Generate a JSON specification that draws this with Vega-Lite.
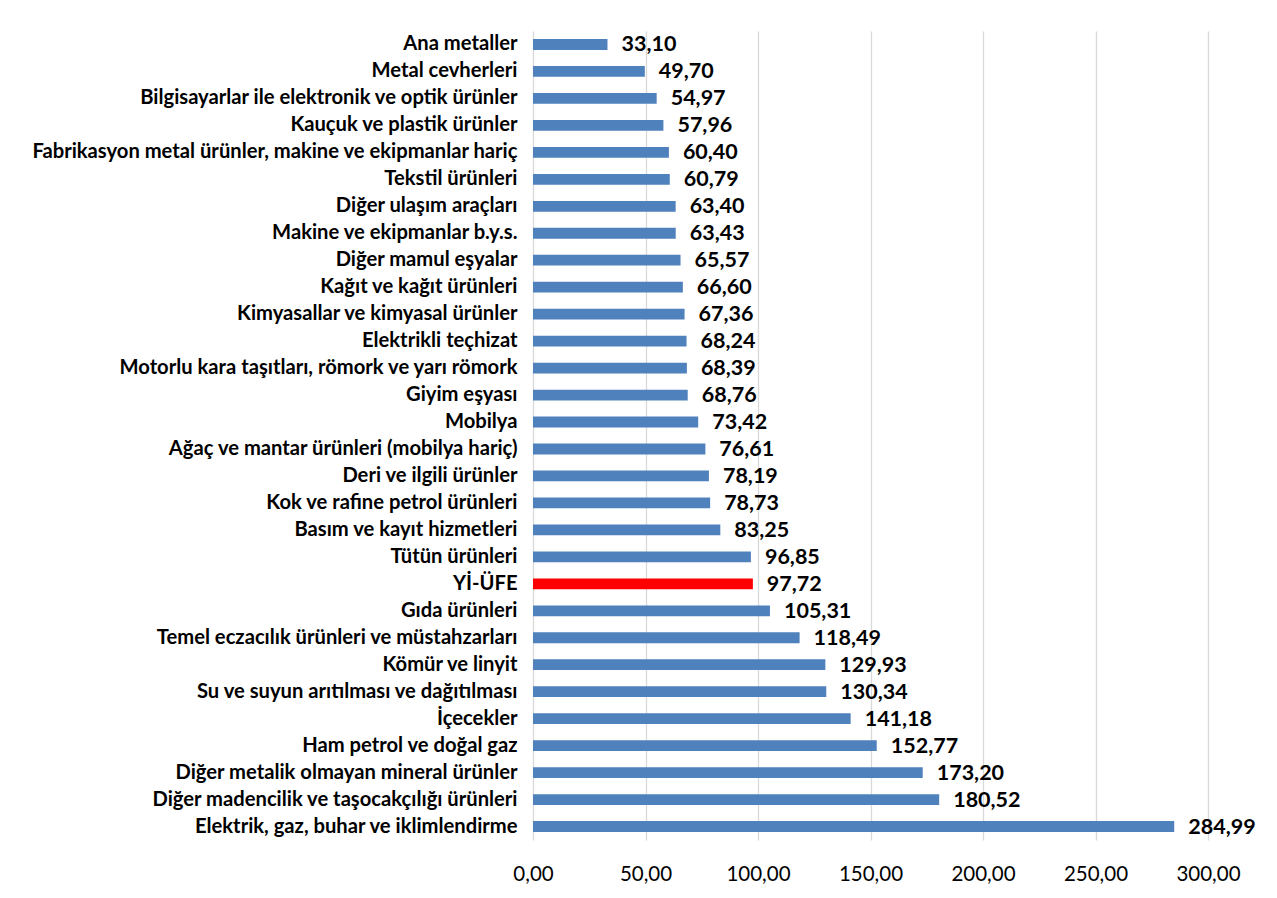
{
  "$schema": "https://vega.github.io/schema/vega-lite/v6.json",
  "autosize": {"type": "none"},
  "padding": {"left": 533, "top": 31, "right": 69, "bottom": 58},
  "width": 675,
  "height": 809,
  "background": "white",
  "config": {
    "view": {"stroke": null},
    "font": "Lato",
    "locale": {"number": {"decimal": ",", "thousands": ".", "grouping": [3], "currency": ["", ""]}}
  },
  "data": {"values": [
    {"k": "Ana metaller", "v": 33.10, "h": "n"},
    {"k": "Metal cevherleri", "v": 49.70, "h": "n"},
    {"k": "Bilgisayarlar ile elektronik ve optik ürünler", "v": 54.97, "h": "n"},
    {"k": "Kauçuk ve plastik ürünler", "v": 57.96, "h": "n"},
    {"k": "Fabrikasyon metal ürünler, makine ve ekipmanlar hariç", "v": 60.40, "h": "n"},
    {"k": "Tekstil ürünleri", "v": 60.79, "h": "n"},
    {"k": "Diğer ulaşım araçları", "v": 63.40, "h": "n"},
    {"k": "Makine ve ekipmanlar b.y.s.", "v": 63.43, "h": "n"},
    {"k": "Diğer mamul eşyalar", "v": 65.57, "h": "n"},
    {"k": "Kağıt ve kağıt ürünleri", "v": 66.60, "h": "n"},
    {"k": "Kimyasallar ve kimyasal ürünler", "v": 67.36, "h": "n"},
    {"k": "Elektrikli teçhizat", "v": 68.24, "h": "n"},
    {"k": "Motorlu kara taşıtları, römork ve yarı römork", "v": 68.39, "h": "n"},
    {"k": "Giyim eşyası", "v": 68.76, "h": "n"},
    {"k": "Mobilya", "v": 73.42, "h": "n"},
    {"k": "Ağaç ve mantar ürünleri (mobilya hariç)", "v": 76.61, "h": "n"},
    {"k": "Deri ve ilgili ürünler", "v": 78.19, "h": "n"},
    {"k": "Kok ve rafine petrol ürünleri", "v": 78.73, "h": "n"},
    {"k": "Basım ve kayıt hizmetleri", "v": 83.25, "h": "n"},
    {"k": "Tütün ürünleri", "v": 96.85, "h": "n"},
    {"k": "Yİ-ÜFE", "v": 97.72, "h": "y"},
    {"k": "Gıda ürünleri", "v": 105.31, "h": "n"},
    {"k": "Temel eczacılık ürünleri ve müstahzarları", "v": 118.49, "h": "n"},
    {"k": "Kömür ve linyit", "v": 129.93, "h": "n"},
    {"k": "Su ve suyun arıtılması ve dağıtılması", "v": 130.34, "h": "n"},
    {"k": "İçecekler", "v": 141.18, "h": "n"},
    {"k": "Ham petrol ve doğal gaz", "v": 152.77, "h": "n"},
    {"k": "Diğer metalik olmayan mineral ürünler", "v": 173.20, "h": "n"},
    {"k": "Diğer madencilik ve taşocakçılığı ürünleri", "v": 180.52, "h": "n"},
    {"k": "Elektrik, gaz, buhar ve iklimlendirme", "v": 284.99, "h": "n"}
  ]},
  "encoding": {
    "y": {"field": "k", "type": "nominal", "sort": null, "title": null,
      "scale": {"paddingInner": 0.6, "paddingOuter": 0.3},
      "axis": {"domain": false, "ticks": false, "labelPadding": 16, "labelFont": "Lato", "labelFontSize": 20.2, "labelFontWeight": "bold", "labelColor": "#000000", "labelLimit": 600}},
    "x": {"field": "v", "type": "quantitative", "title": null,
      "scale": {"domain": [0, 300], "nice": false},
      "axis": {"values": [0, 50, 100, 150, 200, 250, 300], "format": ".2f", "labelFlush": false, "domain": false, "ticks": false, "grid": true, "gridColor": "#D9D9D9", "gridWidth": 1.3, "labelPadding": 24, "labelFont": "Lato", "labelFontSize": 20.5, "labelColor": "#000000"}}
  },
  "layer": [
    {"mark": {"type": "bar"},
      "encoding": {"color": {"field": "h", "type": "nominal", "legend": null, "scale": {"domain": ["n", "y"], "range": ["#4F81BD", "#FF0000"]}}}},
    {"mark": {"type": "text", "align": "left", "baseline": "middle", "dx": 14, "dy": 1, "font": "Lato", "fontSize": 21.5, "fontWeight": "bold", "color": "#000000"},
      "encoding": {"text": {"field": "v", "type": "quantitative", "format": ".2f"}}}
  ]
}
